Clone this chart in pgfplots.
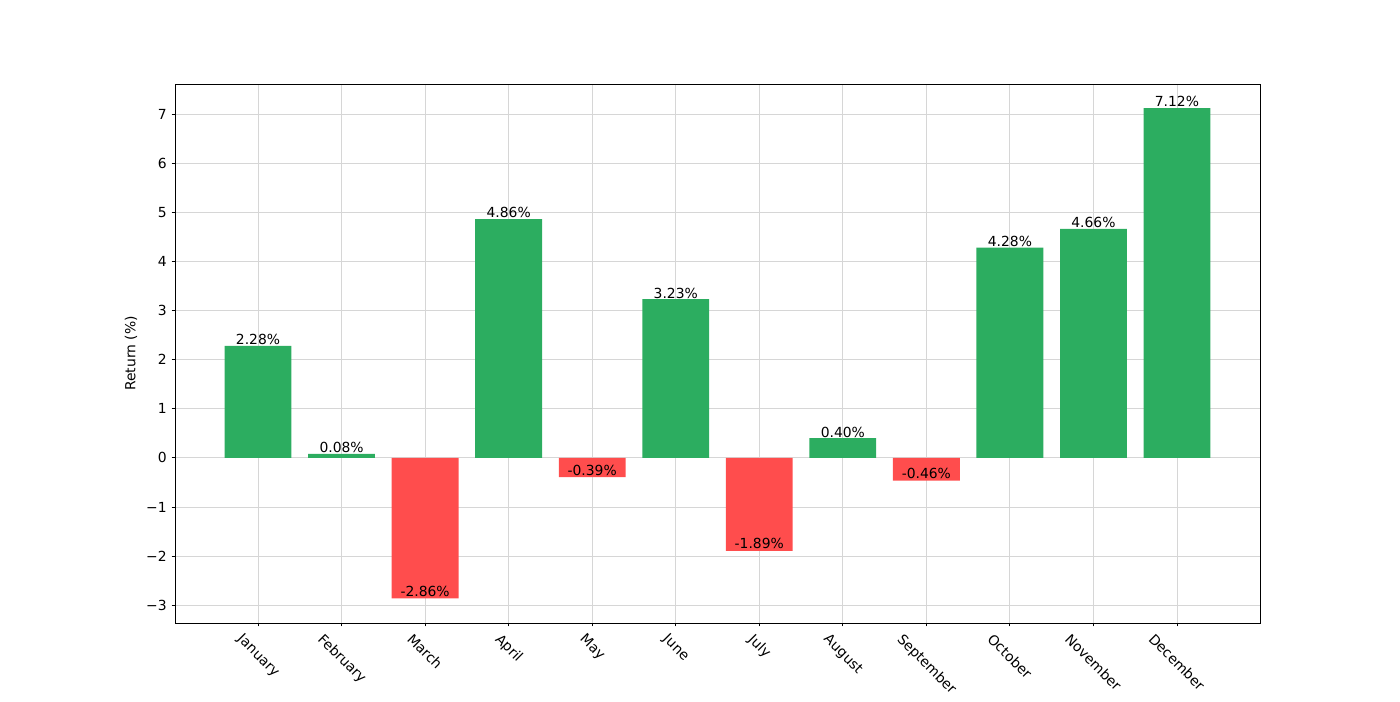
\documentclass[border=0pt]{standalone}
\usepackage{pgfplots}
\pgfplotsset{compat=1.18}
\usetikzlibrary{calc}
\usepackage{graphicx}
\usepackage{fontspec}
\setmainfont{DejaVu Sans}
\definecolor{gbar}{HTML}{2CAD60}
\definecolor{rbar}{HTML}{FF4D4D}
\definecolor{gridc}{HTML}{D6D6D6}
\newcommand{\rl}[1]{\rotatebox{-45}{#1}}
\begin{document}
\begin{tikzpicture}[x=1pt,y=1pt]
\begin{axis}[
  scale only axis,
  width=781.2pt, height=388.08pt,
  xmin=-0.994, xmax=11.994,
  ymin=-3.36, ymax=7.61,
  xtick={0,...,11},
  xticklabels={\rl{January},\rl{February},\rl{March},\rl{April},\rl{May},\rl{June},\rl{July},\rl{August},\rl{September},\rl{October},\rl{November},\rl{December}},
  xticklabel style={anchor=north, yshift=-1pt},
  ytick={-3,...,7},
  yticklabels={−3,−2,−1,0,1,2,3,4,5,6,7},
  tick align=outside,
  major tick length=2.5pt,
  tick style={black, line width=0.6pt},
  xtick pos=bottom, ytick pos=left,
  grid=major,
  major grid style={gridc, line width=0.6pt},
  axis line style={black, line width=0.6pt},
  ylabel={Return (\%)},
  ylabel style={yshift=-0.5pt},
  axis on top=false,
  bar width=0.8,
  ybar,
  nodes near coords,
  point meta=explicit symbolic,
  nodes near coords style={anchor=south, inner sep=0.5pt, font=\fontsize{10}{12}\selectfont, black},
  tick label style={font=\fontsize{10}{12}\selectfont},
  label style={font=\fontsize{10}{12}\selectfont},
  clip=false,
]
\addplot[fill=gbar, draw=none, bar shift=0pt] coordinates {
  (0,2.28) [2.28\%]
  (1,0.08) [0.08\%]
  (3,4.86) [4.86\%]
  (5,3.23) [3.23\%]
  (7,0.40) [0.40\%]
  (9,4.28) [4.28\%]
  (10,4.66) [4.66\%]
  (11,7.12) [7.12\%]
};
\addplot[fill=rbar, draw=none, bar shift=0pt, every node near coord/.style={anchor=south, yshift=-2.2pt}] coordinates {
  (2,-2.86) [-2.86\%]
  (4,-0.39) [-0.39\%]
  (6,-1.89) [-1.89\%]
  (8,-0.46) [-0.46\%]
};
\end{axis}
\path (current axis.south west) ++(-126pt,-55.44pt) rectangle ($(current axis.north east)+(100.8pt,60.48pt)$);
\end{tikzpicture}
\end{document}
